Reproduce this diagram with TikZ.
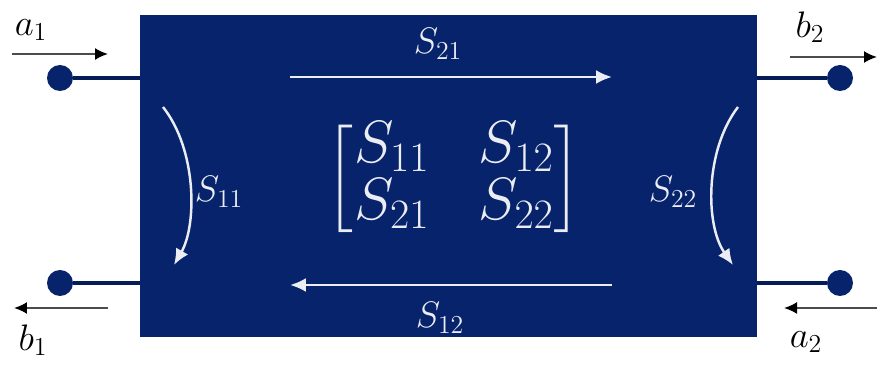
\RequirePackage{fix-cm}
\documentclass[tikz,border=0pt]{standalone}
\usepackage{amsmath,amssymb}
\usetikzlibrary{arrows.meta}
\definecolor{navy}{RGB}{6,35,108}
\colorlet{ink}{white!92!navy}

\begin{document}
\begin{tikzpicture}[x=0.02cm,y=-0.02cm,
  port/.style={circle,fill=navy,inner sep=0pt,minimum size=0.52cm},
  lead/.style={navy!80!black,line width=2.2pt},
  wave/.style={gray!60!black,line width=1.1pt,-{Latex[length=2.6mm,width=2.4mm,black]}},
  flow/.style={ink,line width=1.4pt,-{Latex[length=3.2mm,width=2.8mm]}},
  lbl/.style={font=\fontsize{21}{24}\selectfont},
  inlbl/.style={lbl,text=ink}]
  \useasboundingbox (0,0) rectangle (877,367);
  % two-port network
  \node[fill=navy,minimum width=12.34cm,minimum height=6.44cm,inner sep=0pt] (net) at (448.5,176) {};
  % ports
  \node[port] (in1) at (60,78) {};
  \node[port] (out1) at (60,283) {};
  \node[port] (out2) at (840,78) {};
  \node[port] (in2) at (840,283) {};
  \draw[lead] (in1) -- (in1 -| net.west);
  \draw[lead] (out1) -- (out1 -| net.west);
  \draw[lead] (out2) -- (out2 -| net.east);
  \draw[lead] (in2) -- (in2 -| net.east);
  % incident and reflected waves
  \coordinate (a1s) at (12,54);  \coordinate (a1e) at (108,54);
  \coordinate (b1s) at (108,308); \coordinate (b1e) at (14,308);
  \coordinate (b2s) at (790,57);  \coordinate (b2e) at (877,57);
  \coordinate (a2s) at (877,308); \coordinate (a2e) at (784,308);
  \draw[wave] (a1s) -- (a1e);
  \draw[wave] (b1s) -- (b1e);
  \draw[wave] (b2s) -- (b2e);
  \draw[wave] (a2s) -- (a2e);
  \node[lbl] (la1) at (31,30) {$a_1$};
  \node[lbl] (lb1) at (33,340) {$b_1$};
  \node[lbl] (lb2) at (810,27) {$b_2$};
  \node[lbl] (la2) at (806,342) {$a_2$};
  % transmission paths
  \coordinate (t1) at (290,77);  \coordinate (t2) at (612,77);
  \coordinate (r1) at (612,285); \coordinate (r2) at (290,285);
  \draw[flow] (t1) -- (t2);
  \draw[flow] (r1) -- (r2);
  \node[inlbl] (s21) at (438,44) {$S_{21}$};
  \node[inlbl] (s12) at (440,318) {$S_{12}$};
  % reflections
  \draw[flow] (163,107) .. controls (197,150) and (197,225) .. (174,265);
  \draw[flow] (738,107) .. controls (705,150) and (705,225) .. (733,265);
  \node[inlbl] (s11) at (219,192) {$S_{11}$};
  \node[inlbl] (s22) at (673,192) {$S_{22}$};
  % scattering matrix
  \node[text=ink] (mat) at (454,179) {\fontsize{34}{32}\selectfont\setlength{\arraycolsep}{14pt}%
    $\begin{bmatrix} S_{11} & S_{12}\\ S_{21} & S_{22}\end{bmatrix}$};
\end{tikzpicture}
\end{document}
